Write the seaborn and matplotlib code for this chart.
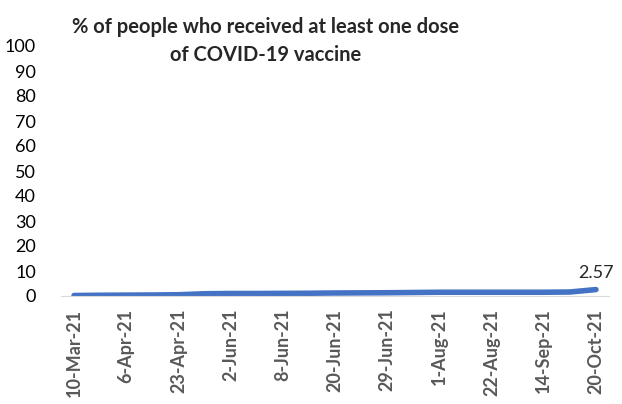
import numpy as np
import pandas as pd
import seaborn as sns
import matplotlib.pyplot as plt

sns.set_style("white")
plt.rcParams['font.family'] = ['Lato', 'DejaVu Sans']

# dates on the x axis (only every other one is labelled in the chart)
dates = ['10-Mar-21', '25-Mar-21', '6-Apr-21', '15-Apr-21', '23-Apr-21', '15-May-21',
         '2-Jun-21', '5-Jun-21', '8-Jun-21', '14-Jun-21', '20-Jun-21', '25-Jun-21',
         '29-Jun-21', '15-Jul-21', '1-Aug-21', '12-Aug-21', '22-Aug-21', '2-Sep-21',
         '14-Sep-21', '1-Oct-21', '20-Oct-21']
pct = [0.2, 0.3, 0.35, 0.4, 0.5, 0.9, 1.0, 1.0, 1.05, 1.1, 1.2, 1.25,
       1.3, 1.4, 1.5, 1.5, 1.5, 1.5, 1.5, 1.6, 2.57]

df = pd.DataFrame({'date': dates, 'pct': pct})
df['idx'] = np.arange(len(df))

fig = plt.figure(figsize=(6.22, 4.04), dpi=100)
ax = fig.add_axes([61 / 622, 108 / 404, 548 / 622, 250 / 404])

sns.lineplot(data=df, x='idx', y='pct', color='#4472C4', linewidth=4,
             solid_capstyle='round', ax=ax)

ax.set_xlim(-0.5, len(df) - 0.5)
ax.set_ylim(0, 100)
ax.set_yticks(range(0, 101, 10))
ax.tick_params(axis='y', length=0, labelsize=13, labelcolor='black', pad=18)

ax.set_xticks(df['idx'][::2])
ax.set_xticklabels(df['date'][::2], rotation=90, fontsize=13,
                   fontweight='bold', color='#595959')
ax.set_xticks(np.arange(-0.5, len(df), 1), minor=True)
ax.tick_params(axis='x', which='major', length=0, pad=9)
ax.tick_params(axis='x', which='minor', length=5, width=1, color='#d9d9d9')

for s in ['top', 'right', 'left']:
    ax.spines[s].set_visible(False)
ax.spines['bottom'].set_color('#d9d9d9')
ax.set_xlabel('')
ax.set_ylabel('')

last = df.iloc[-1]
ax.annotate(f"{last['pct']:.2f}", (last['idx'], last['pct']), xytext=(0, 6),
            textcoords='offset points', ha='center', va='bottom', fontsize=13)

fig.text(266 / 622, 1 - 41 / 404, '% of people who received at least one dose\nof COVID-19 vaccine',
         ha='center', va='center', fontsize=14.5, fontweight='bold', linespacing=1.45)

fig.savefig('out.png', dpi=100)
